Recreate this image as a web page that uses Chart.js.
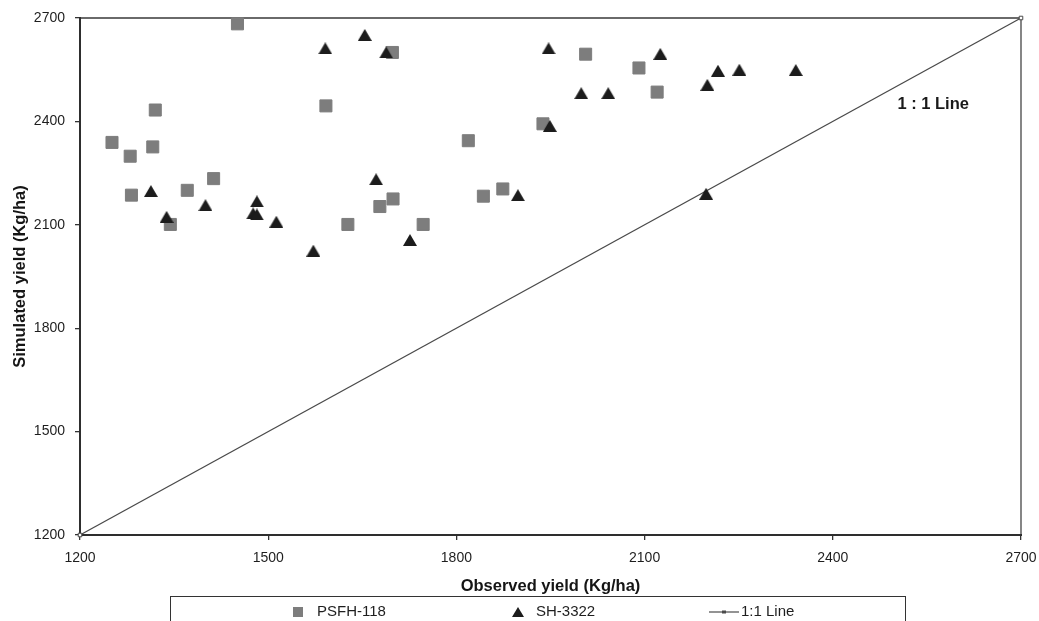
<!DOCTYPE html>
<html>
<head>
<meta charset="utf-8">
<script src="https://cdn.jsdelivr.net/npm/chart.js@4.4.1/dist/chart.umd.min.js"></script>
<style>
  html, body { margin: 0; padding: 0; background: #fff; }
  #wrap { width: 1039px; height: 621px; position: relative; }
</style>
</head>
<body>
<div id="wrap"><canvas id="chart"></canvas></div>
<script>
// values (Kg/ha)
const psfhObserved  = [1251, 1280, 1282, 1316, 1320, 1344, 1371, 1413, 1451, 1592, 1627, 1678, 1698, 1699, 1747, 1819, 1843, 1874, 1938, 2006, 2091, 2120];
const psfhSimulated = [2339, 2299, 2186, 2326, 2433, 2101, 2200, 2234, 2683, 2445, 2101, 2153, 2600, 2175, 2101, 2344, 2183, 2204, 2393, 2595, 2555, 2485];

const shObserved  = [1313, 1338, 1400, 1476, 1482, 1482, 1513, 1572, 1591, 1654, 1672, 1688, 1726, 1898, 1947, 1949, 1999, 2042, 2125, 2198, 2200, 2217, 2251, 2341];
const shSimulated = [2198, 2123, 2157, 2133, 2168, 2130, 2109, 2025, 2612, 2651, 2232, 2600, 2056, 2186, 2612, 2387, 2482, 2482, 2596, 2190, 2506, 2547, 2550, 2549];

const lineObserved  = [1200, 2700];
const lineSimulated = [1200, 2700];

const axisTicks = [1200, 1500, 1800, 2100, 2400, 2700];
const seriesNames = ["PSFH-118", "SH-3322", "1:1 Line"];
const lineLabel = "1 : 1 Line";
const lineLabelAt = { x: 2560, y: 2450 };

const FONT = "'Liberation Sans', Arial, sans-serif";
const SQUARE_COLOR = "#7d7d7d";
const TRI_COLOR = "#1c1c1c";
const LINE_COLOR = "#4a4a4a";

Chart.defaults.font.family = FONT;

function toPoints(xs, ys) {
  return xs.map((x, i) => ({ x, y: ys[i] }));
}

function triangleMarker(w, h, color) {
  const c = document.createElement("canvas");
  c.width = w; c.height = h;
  const g = c.getContext("2d");
  g.fillStyle = color;
  g.beginPath();
  g.moveTo(w / 2, 0);
  g.lineTo(w, h);
  g.lineTo(0, h);
  g.closePath();
  g.fill();
  return c;
}
const triangle = triangleMarker(14, 12, TRI_COLOR);
const smallTriangle = triangleMarker(12, 10, TRI_COLOR);

// frame around the plot area
const frame = {
  id: "frame",
  beforeDatasetsDraw(chart) {
    const { ctx, chartArea: a } = chart;
    ctx.save();
    ctx.lineCap = "square";
    ctx.strokeStyle = "#6a6a6a";
    ctx.lineWidth = 2;
    ctx.beginPath(); ctx.moveTo(a.left, a.top); ctx.lineTo(a.right, a.top); ctx.stroke();
    ctx.strokeStyle = "#444";
    ctx.lineWidth = 1.3;
    ctx.beginPath(); ctx.moveTo(a.right, a.top); ctx.lineTo(a.right, a.bottom); ctx.stroke();
    ctx.strokeStyle = "#2e2e2e";
    ctx.lineWidth = 2;
    ctx.beginPath(); ctx.moveTo(a.left, a.top); ctx.lineTo(a.left, a.bottom); ctx.lineTo(a.right, a.bottom); ctx.stroke();
    ctx.restore();
  },
  afterDatasetsDraw(chart) {
    const { ctx, scales } = chart;
    ctx.save();
    ctx.fillStyle = "#1a1a1a";
    ctx.font = "bold 16.5px " + FONT;
    ctx.textAlign = "center";
    ctx.textBaseline = "middle";
    ctx.fillText(lineLabel, scales.x.getPixelForValue(lineLabelAt.x), scales.y.getPixelForValue(lineLabelAt.y));
    ctx.restore();
  }
};

// boxed legend below the axis title, as in the figure
const boxLegend = {
  id: "boxLegend",
  afterDraw(chart) {
    const ctx = chart.ctx;
    const top = 596, cy = 612;
    ctx.save();
    ctx.strokeStyle = "#333";
    ctx.lineWidth = 1;
    ctx.strokeRect(170.5, top + 0.5, 735, 40);

    ctx.fillStyle = SQUARE_COLOR;
    ctx.fillRect(293, cy - 5, 10, 10);
    ctx.drawImage(smallTriangle, 518 - 6, cy - 5);

    ctx.strokeStyle = LINE_COLOR;
    ctx.lineWidth = 1.2;
    ctx.beginPath(); ctx.moveTo(709, cy); ctx.lineTo(739, cy); ctx.stroke();
    ctx.fillStyle = LINE_COLOR;
    ctx.fillRect(722, cy - 1.5, 4, 3);

    ctx.fillStyle = "#1e1e1e";
    ctx.font = "15px " + FONT;
    ctx.textBaseline = "middle";
    ctx.textAlign = "left";
    ctx.fillText(seriesNames[0], 317, cy);
    ctx.fillText(seriesNames[1], 536, cy);
    ctx.fillText(seriesNames[2], 741, cy);
    ctx.restore();
  }
};

function axis(titleText, isX) {
  return {
    type: "linear",
    min: axisTicks[0],
    max: axisTicks[axisTicks.length - 1],
    afterBuildTicks: s => { s.ticks = axisTicks.map(v => ({ value: v })); },
    afterFit: s => {
      if (isX) s.height = 62; else s.width = 80;
      s.paddingLeft = 0; s.paddingRight = 0; s.paddingTop = 0; s.paddingBottom = 0;
    },
    border: { display: false },
    grid: { drawOnChartArea: false, drawTicks: true, tickLength: 5, color: "#333", lineWidth: 1.3 },
    ticks: {
      color: "#1e1e1e",
      font: { size: 14 },
      padding: 10,
      maxRotation: 0,
      callback: v => String(v)
    },
    title: {
      display: true,
      text: titleText,
      color: "#151515",
      font: { size: 16.5, weight: "bold" },
      padding: isX ? { top: 0, bottom: 1 } : { top: 11, bottom: 0 }
    }
  };
}

new Chart(document.getElementById("chart"), {
  type: "scatter",
  data: {
    datasets: [
      {
        label: seriesNames[0],
        data: toPoints(psfhObserved, psfhSimulated),
        order: 1,
        pointStyle: "rect",
        pointRadius: 8.5,
        pointBackgroundColor: SQUARE_COLOR,
        pointBorderColor: SQUARE_COLOR,
        pointBorderWidth: 1
      },
      {
        label: seriesNames[1],
        data: toPoints(shObserved, shSimulated),
        order: 0,
        pointStyle: triangle,
        pointRadius: 7
      },
      {
        label: seriesNames[2],
        data: toPoints(lineObserved, lineSimulated),
        order: 2,
        showLine: true,
        borderColor: LINE_COLOR,
        borderWidth: 1.3,
        pointStyle: "rect",
        pointRadius: 2.5,
        pointBackgroundColor: "#fff",
        pointBorderColor: LINE_COLOR,
        pointBorderWidth: 1
      }
    ]
  },
  options: {
    responsive: true,
    maintainAspectRatio: false,
    animation: false,
    events: [],
    clip: false,
    layout: { padding: { top: 18, right: 18, bottom: 24, left: 0 } },
    plugins: {
      legend: { display: false },
      tooltip: { enabled: false }
    },
    scales: {
      x: axis("Observed yield (Kg/ha)", true),
      y: axis("Simulated yield (Kg/ha)", false)
    }
  },
  plugins: [frame, boxLegend]
});
</script>
</body>
</html>
